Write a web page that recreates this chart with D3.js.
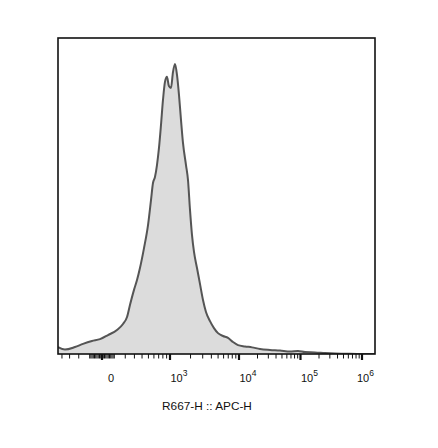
<!DOCTYPE html>
<html>
<head>
<meta charset="utf-8">
<script src="https://cdn.jsdelivr.net/npm/d3@7"></script>
<style>
  html, body { margin: 0; padding: 0; background: #fff; }
  svg { display: block; font-family: "Liberation Sans", Arial, sans-serif; }
</style>
</head>
<body>
<svg id="chart" width="438" height="448"></svg>
<script>
// ---- data ----
const fluorescence = [-460, -358, -239, -159, -81, -16, 48, 123, 178, 218, 249, 295, 332, 371, 429, 493,
  545, 582, 621, 663, 707, 754, 803, 855, 910, 966, 1034, 1107, 1186, 1269, 1357, 1452, 1553, 1718,
  1836, 1964, 2099, 2245, 2481, 2740, 3029, 3345, 3822, 4362, 4982, 5883, 6943, 8197, 9675, 12521,
  16280, 21950, 31930, 46400, 67520, 91090, 118450, 172250, 250500, 363800, 638000, 1630000];
const percentOfMax = [2.2, 1.4, 2.2, 3.2, 4.1, 4.7, 6.0, 7.6, 9.5, 11.7, 15.5, 20.3, 23.4, 27.2, 33.5, 40.8,
  48.7, 54.1, 56.0, 59.8, 65.2, 72.5, 80.4, 86.1, 87.7, 84.8, 84.2, 89.2, 91.8, 88.3, 82.0, 74.1, 66.8, 59.8,
  55.1, 45.6, 37.7, 32.3, 27.2, 22.2, 17.1, 13.3, 10.4, 8.2, 6.6, 5.7, 5.1, 3.8, 2.8, 2.4,
  2.1, 1.6, 1.3, 1.1, 0.8, 0.95, 0.6, 0.5, 0.3, 0.15, 0.05, 0];
const majorTicks = [0, 1e3, 1e4, 1e5, 1e6];
const majorLabels = ["0", "10|3", "10|4", "10|5", "10|6"];
const minorTicks = [-400, -300, -200,
  -100, -90, -80, -70, -60, -50, -40, -30, -20, -10, 10, 20, 30, 40, 50, 60, 70, 80, 90, 100,
  200, 300, 400, 500, 600, 700, 800, 900,
  2000, 3000, 4000, 5000, 6000, 7000, 8000, 9000,
  20000, 30000, 40000, 50000, 60000, 70000, 80000, 90000,
  200000, 300000, 400000, 500000, 600000, 700000, 800000, 900000];
const axisTitle = "R667-H :: APC-H";

// ---- layout ----
const L = 58, R = 375, T = 38, B = 354;
const svg = d3.select("#chart");

// biexponential-like transform + piecewise linear display scale
const W = 265;
const tr = v => Math.asinh(v / W);
const disp = d3.scaleLinear()
  .domain([tr(0), tr(1e3), tr(1e4), tr(1e6)])
  .range([102, 170, 239, 362]);
const x = v => disp(tr(v));
const y = d3.scaleLinear().domain([0, 100]).range([B, T]);

const pts = fluorescence.map((v, i) => [v, percentOfMax[i]]);

svg.append("defs").append("clipPath").attr("id", "plotclip")
  .append("rect").attr("x", L).attr("y", T).attr("width", R - L).attr("height", B - T);

const g = svg.append("g").attr("clip-path", "url(#plotclip)");

g.append("path")
  .datum(pts)
  .attr("d", d3.area().x(d => x(d[0])).y0(B).y1(d => y(d[1])).curve(d3.curveMonotoneX))
  .attr("fill", "#dcdcdc");

g.append("path")
  .datum(pts)
  .attr("d", d3.line().x(d => x(d[0])).y(d => y(d[1])).curve(d3.curveMonotoneX))
  .attr("fill", "none")
  .attr("stroke", "#555")
  .attr("stroke-width", 2);

// frame
svg.append("rect")
  .attr("x", L).attr("y", T).attr("width", R - L).attr("height", B - T)
  .attr("fill", "none").attr("stroke", "#111").attr("stroke-width", 1.6);

// ticks
const ticks = svg.append("g");
ticks.selectAll("line.minor").data(minorTicks).join("line")
  .attr("class", "minor")
  .attr("x1", d => x(d)).attr("x2", d => x(d))
  .attr("y1", B).attr("y2", B + 4.5)
  .attr("stroke", "#111").attr("stroke-width", 1);
ticks.selectAll("line.major").data(majorTicks).join("line")
  .attr("class", "major")
  .attr("x1", d => x(d)).attr("x2", d => x(d))
  .attr("y1", B).attr("y2", B + 6)
  .attr("stroke", "#111").attr("stroke-width", 2.2);

// labels
majorTicks.forEach((v, i) => {
  const parts = majorLabels[i].split("|");
  const t = svg.append("text")
    .attr("y", 382)
    .attr("font-size", 11)
    .attr("fill", "#111")
    .attr("text-anchor", "middle");
  t.append("tspan").text(parts[0]);
  if (parts[1]) t.append("tspan").attr("dy", -6).attr("font-size", 8.5).text(parts[1]);
  let cx = x(v) + 9;
  const w = t.node().getBBox().width;
  if (cx + w / 2 > R - 1) cx = R - 1 - w / 2;
  t.attr("x", cx);
});

svg.append("text")
  .attr("x", 207).attr("y", 410)
  .attr("text-anchor", "middle")
  .attr("font-size", 11.8)
  .attr("fill", "#111")
  .text(axisTitle);
</script>
</body>
</html>
